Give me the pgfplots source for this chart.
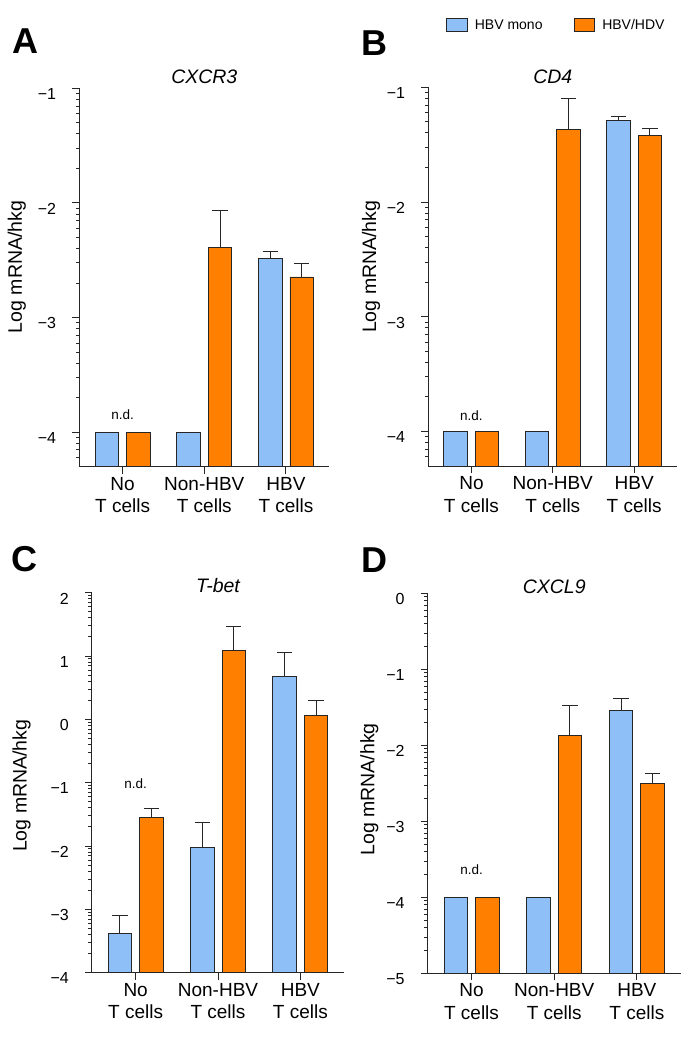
\documentclass[border=0pt]{standalone}
\usepackage{fontspec}
\setmainfont{Liberation Sans}
\usepackage{pgfplots}
\pgfplotsset{compat=1.18}
\definecolor{hbvblue}{RGB}{143,191,247}
\definecolor{hdvorange}{RGB}{255,128,0}
\definecolor{edge}{RGB}{38,38,38}
\tikzset{ndlabel/.style={font=\fontsize{13.5}{15}\selectfont, anchor=base}}
\pgfplotsset{
  panel/.style={
    scale only axis,
    axis x line*=bottom,
    axis y line*=left,
    axis line style={line width=1pt, edge},
    xmin=-0.53, xmax=2.53,
    xtick={0,1,2},
    xticklabels={No\\T cells, Non-HBV\\T cells, HBV\\T cells},
    xticklabel style={align=center, font=\fontsize{19}{22.5}\selectfont, text=black},
    yticklabel style={font=\fontsize{16}{18}\selectfont, anchor=north east, inner sep=0pt, text=black, xshift=-16pt},
    tick align=outside,
    major tick length=7pt,
    minor tick length=3.5pt,
    tick style={line width=1pt, edge},
    ylabel={Log mRNA/hkg},
    ylabel style={font=\fontsize{19.5}{22}\selectfont, anchor=center},
    title style={font=\fontsize{19.5}{22}\selectfont\itshape, anchor=base},
    clip=false,
  },
  bluebar/.style={ybar, bar width=23.5pt, bar shift=-15.75pt, fill=hbvblue, draw=edge, line width=0.9pt},
  orangebar/.style={ybar, bar width=23.5pt, bar shift=15.75pt, fill=hdvorange, draw=edge, line width=0.9pt},
  errs/.style={draw=none, mark=none, forget plot,
     error bars/.cd, y dir=plus, y explicit,
     error bar style={draw=edge, line width=1pt, solid},
     error mark options={rotate=90, mark size=7.7pt, draw=edge, line width=1pt, solid}},
  boxlegend/.style={legend image code/.code={\draw[##1, line width=1pt] (0pt,-6.35pt) rectangle (20.7pt,6.35pt);}},
}
\begin{document}
\begin{tikzpicture}
\path[use as bounding box] (0,0) rectangle (692pt,-1039pt);

% ---------------- A: CXCR3
\begin{axis}[panel,
  at={(79.3pt,-466.7pt)}, anchor=south west, width=250pt, height=378.4pt,
  ymin=-4.301, ymax=-1,
  y coord trafo/.code={\pgfmathparse{#1+4.301}},
  y coord inv trafo/.code={\pgfmathparse{#1-4.301}},
  ytick={-4,-3,-2,-1}, yticklabels={−4,−3,−2,−1},
  minor ytick={-4.222,-4.155,-4.097,-4.046,
    -3.699,-3.523,-3.398,-3.301,-3.222,-3.155,-3.097,-3.046,
    -2.699,-2.523,-2.398,-2.301,-2.222,-2.155,-2.097,-2.046,
    -1.699,-1.523,-1.398,-1.301,-1.222,-1.155,-1.097,-1.046},
  title={CXCR3}, title style={at={(0.5,1)}, yshift=-1pt},
  ylabel style={at={(axis description cs:-0.25,0.528)}},
]
\addplot[bluebar] coordinates {(0,-4) (1,-4) (2,-2.487)};
\addplot[orangebar] coordinates {(0,-4) (1,-2.391) (2,-2.646)};
\addplot[errs] coordinates {(1.8072,-2.487) +- (0,0.067)};
\addplot[errs] coordinates {(1.1928,-2.391) +- (0,0.325) (2.1928,-2.646) +- (0,0.121)};
\node[ndlabel] at (axis cs:0,-3.893) {n.d.};
\end{axis}

% ---------------- B: CD4
\begin{axis}[panel,
  at={(428.3pt,-466pt)}, anchor=south west, width=249pt, height=378.7pt,
  ymin=-4.301, ymax=-1,
  y coord trafo/.code={\pgfmathparse{#1+4.301}},
  y coord inv trafo/.code={\pgfmathparse{#1-4.301}},
  ytick={-4,-3,-2,-1}, yticklabels={−4,−3,−2,−1},
  minor ytick={-4.222,-4.155,-4.097,-4.046,
    -3.699,-3.523,-3.398,-3.301,-3.222,-3.155,-3.097,-3.046,
    -2.699,-2.523,-2.398,-2.301,-2.222,-2.155,-2.097,-2.046,
    -1.699,-1.523,-1.398,-1.301,-1.222,-1.155,-1.097,-1.046},
  title={CD4}, title style={at={(0.5,1)}, yshift=-2pt},
  ylabel style={at={(axis description cs:-0.23,0.526)}},
  legend columns=2,
  legend cell align=left,
  legend style={draw=none, fill=none, at={(axis description cs:0.071,1.164)}, anchor=west,
    font=\fontsize{14}{16}\selectfont, inner sep=0pt,
    /tikz/every odd column/.append style={column sep=5pt},
    /tikz/every even column/.append style={column sep=29pt}},
]
\addplot[bluebar, boxlegend] coordinates {(0,-4) (1,-4) (2,-1.287)};
\addlegendentry{HBV mono}
\addplot[orangebar, boxlegend] coordinates {(0,-4) (1,-1.368) (2,-1.420)};
\addlegendentry{HBV/HDV}
\addplot[errs] coordinates {(1.8064,-1.287) +- (0,0.030)};
\addplot[errs] coordinates {(1.1936,-1.368) +- (0,0.267) (2.1936,-1.420) +- (0,0.058)};
\node[ndlabel] at (axis cs:0,-3.9) {n.d.};
\end{axis}

% ---------------- C: T-bet
\begin{axis}[panel,
  at={(92pt,-972.7pt)}, anchor=south west, width=252pt, height=380pt,
  ymin=-4, ymax=2,
  y coord trafo/.code={\pgfmathparse{#1+4}},
  y coord inv trafo/.code={\pgfmathparse{#1-4}},
  ytick={-4,-3,-2,-1,0,1,2}, yticklabels={−4,−3,−2,−1,0,1,2},
  minor ytick={-3.699,-3.523,-3.398,-3.301,-3.222,-3.155,-3.097,-3.046,
    -2.699,-2.523,-2.398,-2.301,-2.222,-2.155,-2.097,-2.046,
    -1.699,-1.523,-1.398,-1.301,-1.222,-1.155,-1.097,-1.046,
    -0.699,-0.523,-0.398,-0.301,-0.222,-0.155,-0.097,-0.046,
    0.301,0.477,0.602,0.699,0.778,0.845,0.903,0.954,
    1.301,1.477,1.602,1.699,1.778,1.845,1.903,1.954},
  title={T-bet}, title style={at={(0.5,1)}, yshift=-6pt},
  ylabel style={at={(axis description cs:-0.279,0.492)}},
]
\addplot[bluebar] coordinates {(0,-3.379) (1,-2.021) (2,0.674)};
\addplot[orangebar] coordinates {(0,-1.547) (1,1.084) (2,0.058)};
\addplot[errs] coordinates {(-0.1913,-3.379) +- (0,0.290) (0.8087,-2.021) +- (0,0.389) (1.8087,0.674) +- (0,0.389)};
\addplot[errs] coordinates {(0.1913,-1.547) +- (0,0.137) (1.1913,1.084) +- (0,0.390) (2.1913,0.058) +- (0,0.237)};
\node[ndlabel] at (axis cs:0,-1.09) {n.d.};
\end{axis}

% ---------------- D: CXCL9
\begin{axis}[panel,
  at={(427.7pt,-973.3pt)}, anchor=south west, width=253pt, height=380pt,
  ymin=-5, ymax=0,
  y coord trafo/.code={\pgfmathparse{#1+5}},
  y coord inv trafo/.code={\pgfmathparse{#1-5}},
  ytick={-5,-4,-3,-2,-1,0}, yticklabels={−5,−4,−3,−2,−1,0},
  minor ytick={-4.699,-4.523,-4.398,-4.301,-4.222,-4.155,-4.097,-4.046,
    -3.699,-3.523,-3.398,-3.301,-3.222,-3.155,-3.097,-3.046,
    -2.699,-2.523,-2.398,-2.301,-2.222,-2.155,-2.097,-2.046,
    -1.699,-1.523,-1.398,-1.301,-1.222,-1.155,-1.097,-1.046,
    -0.699,-0.523,-0.398,-0.301,-0.222,-0.155,-0.097,-0.046},
  title={CXCL9}, title style={at={(0.5,1)}, yshift=-6pt},
  ylabel style={at={(axis description cs:-0.231,0.484)}},
]
\addplot[bluebar] coordinates {(0,-4) (1,-4) (2,-1.544)};
\addplot[orangebar] coordinates {(0,-4) (1,-1.873) (2,-2.500)};
\addplot[errs] coordinates {(1.8095,-1.544) +- (0,0.154)};
\addplot[errs] coordinates {(1.1905,-1.873) +- (0,0.395) (2.1905,-2.500) +- (0,0.123)};
\node[ndlabel] at (axis cs:0,-3.697) {n.d.};
\end{axis}

\node[anchor=base west, inner sep=0pt, font=\fontsize{36}{40}\selectfont\bfseries] at (12pt,-53.3pt) {A};
\node[anchor=base west, inner sep=0pt, font=\fontsize{36}{40}\selectfont\bfseries] at (361pt,-55pt) {B};
\node[anchor=base west, inner sep=0pt, font=\fontsize{36}{40}\selectfont\bfseries] at (11.5pt,-571.7pt) {C};
\node[anchor=base west, inner sep=0pt, font=\fontsize{36}{40}\selectfont\bfseries] at (361pt,-572pt) {D};
\end{tikzpicture}
\end{document}
